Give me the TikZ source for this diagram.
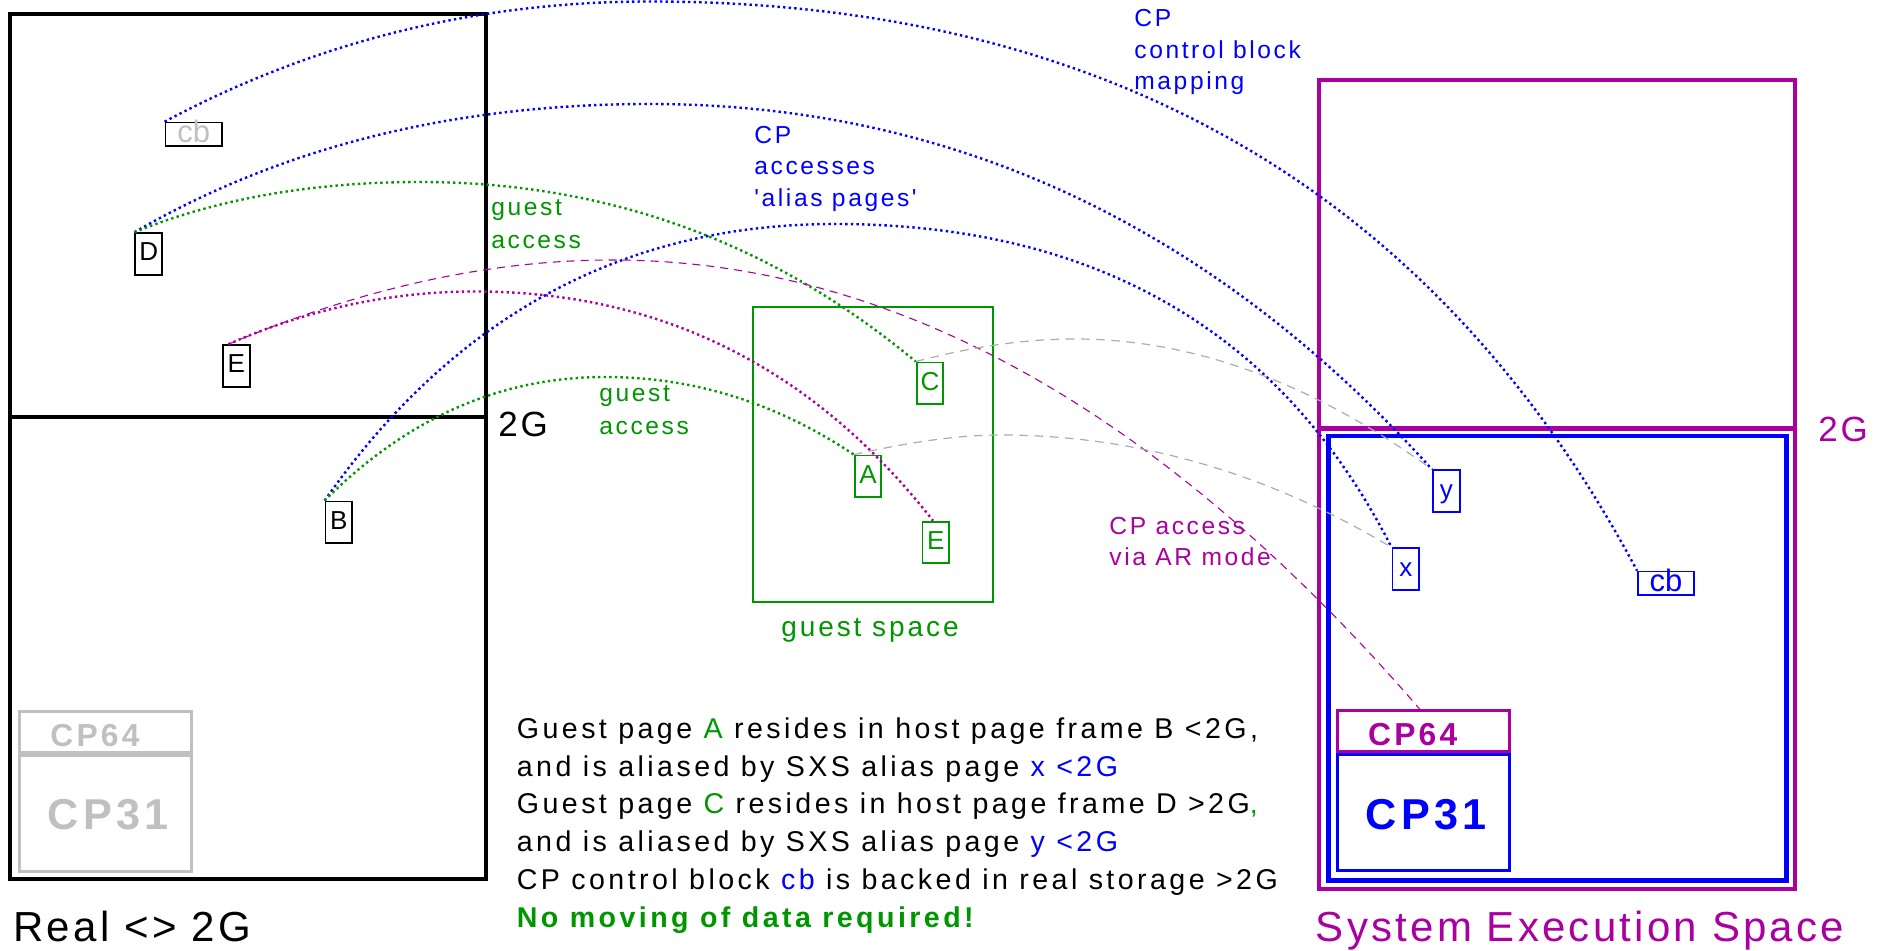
\documentclass[tikz,border=0pt]{standalone}
\usepackage{fontspec}
\setmainfont{Liberation Sans}
\newfontfamily\trackfont{Liberation Sans}[LetterSpace=10.5]
\newfontfamily\bodyfont{Liberation Sans}[LetterSpace=12]
\newfontfamily\widefont{Liberation Sans}[LetterSpace=7.7]
\newfontfamily\cpfont{Liberation Sans}[LetterSpace=10]
\usetikzlibrary{calc}

\definecolor{cpblue}{RGB}{0,0,255}
\definecolor{gstgreen}{RGB}{0,150,0}
\definecolor{sxsmag}{RGB}{170,0,160}
\definecolor{lightgr}{RGB}{192,192,192}
\definecolor{dashgr}{RGB}{172,172,172}

\newcommand{\linesof}[1]{\begin{tabular}[t]{@{}l@{}}#1\end{tabular}}

\tikzset{
  frame/.style={line width=1.85pt},
  bigframe/.style={line width=2.25pt},
  pagebox/.style={draw, line width=0.9pt, inner sep=0pt,
    minimum width=13.35pt, minimum height=20.85pt,
    text height=13.9pt, text depth=6.95pt,
    font=\fontsize{13}{15}\selectfont},
  cbbox/.style={draw, line width=0.9pt, inner sep=0pt,
    minimum width=28.15pt, minimum height=11.6pt,
    text height=10.05pt, text depth=1.55pt,
    font=\fontsize{15.5}{17}\selectfont},
  cpbox/.style={draw, line width=1.65pt, inner sep=0pt, minimum width=85.9pt},
  lbl/.style={inner sep=0pt, anchor=base west,
    font={\trackfont\fontsize{12.3}{15.8}\selectfont}},
  bigtext/.style={inner sep=0pt, font={\widefont\fontsize{21}{24}\selectfont}},
  gtext/.style={inner sep=0pt, font={\widefont\fontsize{17.5}{20}\selectfont}},
  cpsmall/.style={inner sep=0pt, anchor=base west,
    font={\cpfont\bfseries\fontsize{15.9}{18}\selectfont}},
  cplarge/.style={inner sep=0pt, anchor=base west,
    font={\cpfont\bfseries\fontsize{21.6}{24}\selectfont}},
  dotline/.style={line width=1.2pt, dash pattern=on 1.2pt off 1.6pt},
  magdash/.style={sxsmag, line width=0.55pt, dash pattern=on 4pt off 3pt},
  greydash/.style={dashgr, line width=0.6pt, dash pattern=on 4.3pt off 3.3pt}
}

\begin{document}
\begin{tikzpicture}[x=0.5pt,y=-0.5pt]
\useasboundingbox (0,0) rectangle (1885,951);

% real storage, split at 2G
\draw[frame] (10.3,14) rectangle (486,878.7);
\draw[frame] (10.3,417.3) -- (486,417.3);

% system execution space, split at 2G, with the inner <2G area
\draw[bigframe, sxsmag] (1319.2,80) rectangle (1795,889.2);
\draw[bigframe, sxsmag] (1319.2,428.7) -- (1795,428.7);
\draw[bigframe, cpblue] (1328.3,436.2) rectangle (1786.7,880.3);

% guest address space
\draw[gstgreen, line width=1pt] (752.5,307.5) rectangle (992.5,602);

% CP code areas
\node[cpbox, draw=lightgr, line width=1.5pt, minimum height=20.4pt] (cp64l) at (105.25,732.1) {};
\node[cpbox, draw=lightgr, line width=1.5pt, minimum height=58pt] (cp31l) at (105.25,813) {};
\node[cpbox, draw=sxsmag, minimum height=20.45pt] (cp64r) at (1423.25,731.25) {};
\node[cpbox, draw=cpblue, minimum height=58.1pt] (cp31r) at (1423.25,812.6) {};
\node[cpsmall, text=lightgr] (cp64ltext) at (50,746) {CP64};
\node[cplarge, text=lightgr] (cp31ltext) at (47.5,829) {CP31};
\node[cpsmall, text=sxsmag] (cp64rtext) at (1367.7,745) {CP64};
\node[cplarge, text=cpblue] (cp31rtext) at (1365.5,829.3) {CP31};

% page frames and pages
\node[cbbox, text=lightgr] (cbl) at (193.65,134.2) {cb};
\node[pagebox] (pd) at (148.65,254) {D};
\node[pagebox] (pel) at (236.35,366) {E};
\node[pagebox] (pb) at (338.85,522.35) {B};
\node[pagebox, draw=gstgreen, text=gstgreen] (pc) at (930,383.35) {C};
\node[pagebox, draw=gstgreen, text=gstgreen] (pa) at (868,476.35) {A};
\node[pagebox, draw=gstgreen, text=gstgreen] (peg) at (935.85,542.5) {E};
\node[pagebox, draw=cpblue, text=cpblue] (py) at (1446.3,491.2) {y};
\node[pagebox, draw=cpblue, text=cpblue] (px) at (1405.85,569.2) {x};
\node[cbbox, draw=cpblue, text=cpblue] (cbr) at (1666.1,583.2) {cb};

\coordinate (elstart) at ($(pel.north west)!0.22!(pel.north east)$);
\coordinate (egend) at ($(peg.north west)!0.4!(peg.north east)$);
\coordinate (cp64top) at ($(cp64r.north west)!0.48!(cp64r.north east)$);

% CP mappings (each arc: two parabolic pieces meeting at the crest)
\draw[dotline, cpblue] (cbl.north west)
  .. controls ($(cbl.north west)!2/3!(390,1.5)$) and (476.7,1.5) .. (650,1.5)
  .. controls (1106,1.5) and ($(cbr.north west)!2/3!(1334,1.5)$) .. (cbr.north west);
\draw[dotline, cpblue] (pd.north west)
  .. controls ($(pd.north west)!2/3!(356,104)$) and (454,104) .. (650,104)
  .. controls (952,104) and ($(py.north west)!2/3!(1103,104)$) .. (py.north west);
\draw[dotline, cpblue] (pb.north west)
  .. controls ($(pb.north west)!2/3!(518,224)$) and (623.7,224) .. (835,224)
  .. controls (1096.3,224) and ($(px.north west)!2/3!(1227,224)$) .. (px.north west);

% guest accesses
\draw[dotline, gstgreen] (pd.north west)
  .. controls ($(pd.north west)!2/3!(258.5,182)$) and (312.3,182) .. (420,182)
  .. controls (606.7,182) and ($(pc.north west)!2/3!(700,182)$) .. (pc.north west);
\draw[dotline, gstgreen] (pb.north west)
  .. controls ($(pb.north west)!2/3!(448,377)$) and (500.3,377) .. (605,377)
  .. controls (693.7,377) and ($(pa.north west)!2/3!(738,377)$) .. (pa.north west);

% page E: guest view and CP access in AR mode
\draw[dotline, sxsmag] (elstart)
  .. controls ($(elstart)!2/3!(348.7,291.5)$) and (390.8,291.5) .. (475,291.5)
  .. controls (661,291.5) and ($(egend)!2/3!(754,291.5)$) .. (egend);
\draw[magdash] (elstart)
  .. controls ($(elstart)!2/3!(428.7,260)$) and (489.8,260) .. (612,260)
  .. controls (892,260) and ($(cp64top)!2/3!(1032,260)$) .. (cp64top);

% alias page relations
\draw[greydash] (pc.north west)
  .. controls ($(pc.north west)!2/3!(1000.4,339)$) and (1025.3,339) .. (1075,339)
  .. controls (1192.8,339) and ($(py.north west)!2/3!(1251.7,339)$) .. (py.north west);
\draw[greydash] (pa.north west)
  .. controls ($(pa.north west)!2/3!(940.6,435)$) and (960.4,435) .. (1000,435)
  .. controls (1136,435) and ($(px.north west)!2/3!(1204,435)$) .. (px.north west);

% labels
\node[lbl, text=cpblue] (lmap) at (1134,26.7) {\linesof{CP\\control block\\mapping}};
\node[lbl, text=cpblue] (lalias) at (754,143.3) {\linesof{CP\\accesses\\'alias pages'}};
\node[lbl, text=gstgreen, font={\trackfont\fontsize{12.3}{16.4}\selectfont}] (lga1) at (491,215.5) {\linesof{guest\\access}};
\node[lbl, text=gstgreen, font={\trackfont\fontsize{12.3}{16.4}\selectfont}] (lga2) at (599,401.7) {\linesof{guest\\access}};
\node[lbl, text=sxsmag, font={\trackfont\fontsize{12.3}{15.5}\selectfont}] (lar) at (1109,535) {\linesof{CP access\\via AR mode}};

\node[gtext, anchor=base west] (twog) at (498,436.7) {2G};
\node[gtext, anchor=base west, text=sxsmag] (twogs) at (1818,441.7) {2G};
\node[inner sep=0pt, anchor=base, text=gstgreen, font={\trackfont\fontsize{14}{17}\selectfont}] (gspace) at (870,636.7) {guest space};
\node[bigtext, anchor=base west] (realt) at (13,941.7) {Real <> 2G};
\node[bigtext, anchor=base, text=sxsmag] (sxst) at (1580,941.7) {System Execution Space};

% explanation
\node[inner sep=0pt, anchor=base west, font={\bodyfont\fontsize{14.3}{18.9}\selectfont}] (expl) at (516.5,738.3) {\linesof{%
Guest page {\color{gstgreen}A} resides in host page frame B <2G,\\
and is aliased by SXS alias page {\color{cpblue}x <2G}\\
Guest page {\color{gstgreen}C} resides in host page frame D >2G{\color{gstgreen},}\\
and is aliased by SXS alias page {\color{cpblue}y <2G}\\
CP control block {\color{cpblue}cb} is backed in real storage >2G\\
{\bfseries\color{gstgreen}No moving of data required!}}};
\end{tikzpicture}
\end{document}
